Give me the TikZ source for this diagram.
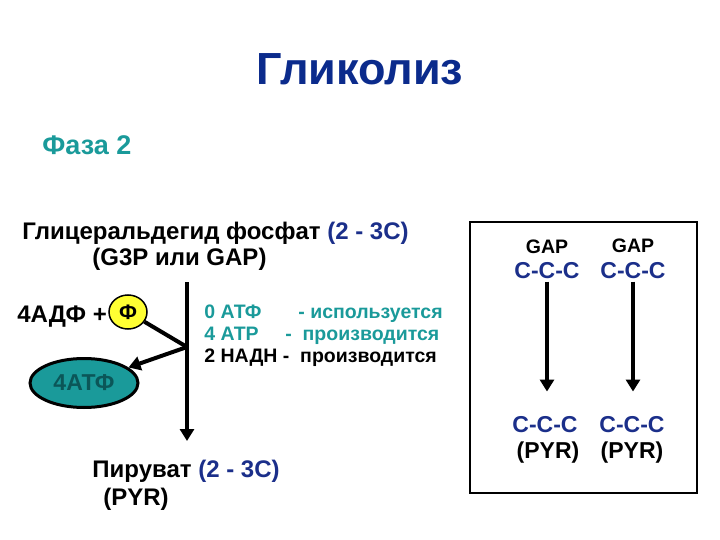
\documentclass[tikz,border=0pt]{standalone}
\usepackage{fontspec}
\setmainfont{Liberation Sans}
\usetikzlibrary{arrows.meta,positioning,shapes.geometric}
\definecolor{titleblue}{HTML}{0B2B8C}
\definecolor{phaseteal}{HTML}{1A9A9A}
\definecolor{darkteal}{HTML}{0B5658}
\definecolor{carbonblue}{HTML}{1B2F8A}
\definecolor{phosyellow}{HTML}{FFFF33}

\begin{document}
\begin{tikzpicture}[x=1pt, y=-1pt, thick]
        \tikzstyle{txt}=[inner sep=0pt, anchor=base west, font=\bfseries\fontsize{24}{28}\selectfont]
        \tikzstyle{small}=[inner sep=0pt, anchor=base west, font=\bfseries\fontsize{19.5}{23}\selectfont]
        \tikzstyle{carbon}=[inner sep=0pt, anchor=base, text=carbonblue, font=\bfseries\fontsize{23}{27}\selectfont]
        \tikzstyle{arr}=[line width=4pt, -{Triangle[length=12pt,width=14pt]}]

        \useasboundingbox (0,0) rectangle (720,540);

        % title
        \node[inner sep=0pt, anchor=base, text=titleblue, font=\bfseries\fontsize{45}{50}\selectfont] (title) at (360,85) {Гликолиз};
        \node[txt, text=phaseteal, font=\bfseries\fontsize{27}{32}\selectfont] (phase) at (42,155) {Фаза 2};

        % left part
        \node[txt] (g3p) at (22,240) {Глицеральдегид фосфат \textcolor{carbonblue}{(2 - 3С)}};
        \node[txt] (gap) at (92,265) {(G3P или GAP)};
        \node[txt] (adp) at (17,322) {4АДФ +};
        \node[ellipse, draw=black, line width=1.5pt, fill=phosyellow, minimum width=38pt, minimum height=34pt, inner sep=0pt, font=\bfseries\fontsize{21}{24}\selectfont] (phos) at (128,312) {Ф};
        \node[ellipse, draw=black, line width=3pt, fill=phaseteal, text=darkteal, minimum width=108pt, minimum height=49pt, inner sep=0pt, font=\bfseries\fontsize{23}{26}\selectfont] (atp) at (84,383) {4АТФ};

        \node[small, text=phaseteal] (used) at (204,318) {\makebox[94pt][l]{0 АТФ}- используется};
        \node[small, text=phaseteal] (made) at (204,340) {\makebox[81pt][l]{4 АТР}- \ производится};
        \node[small] (nadh) at (204,362) {2 НАДН - \ производится};

        \node[txt] (pyr) at (92,477) {Пируват \textcolor{carbonblue}{(2 - 3С)}};
        \node[txt] (pyrabbr) at (103,505) {(PYR)};

        \coordinate (top) at (187,282);
        \coordinate (junc) at (187,347);
        \coordinate (tip) at (187,441);
        \draw[arr] (top) -- (tip);
        \draw[line width=4pt] (phos) -- (junc);
        \draw[arr] (junc) -- (atp);

        % right box
        \node[draw=black, line width=1.5pt, minimum width=227pt, minimum height=271pt, inner sep=0pt] (box) at (583.5,357.5) {};
        \node[small, anchor=base] (gapa) at (547,254) {GAP};
        \node[small, anchor=base] (gapb) at (633,252) {GAP};
        \node[carbon] (ccca) at (547,278) {C-C-C};
        \node[carbon] (cccb) at (633,278) {C-C-C};
        \node[carbon] (pyra) at (545,432) {C-C-C};
        \node[carbon] (pyrb) at (632,432) {C-C-C};
        \node[txt, anchor=base, font=\bfseries\fontsize{23}{27}\selectfont] (pyrla) at (548,458) {(PYR)};
        \node[txt, anchor=base, font=\bfseries\fontsize{23}{27}\selectfont] (pyrlb) at (632,458) {(PYR)};

        \draw[arr, shorten <=3pt, shorten >=24pt] (ccca.south) -- (ccca.south |- pyra.north);
        \draw[arr, shorten <=3pt, shorten >=24pt] (cccb.south) -- (cccb.south |- pyrb.north);
\end{tikzpicture}
\end{document}
